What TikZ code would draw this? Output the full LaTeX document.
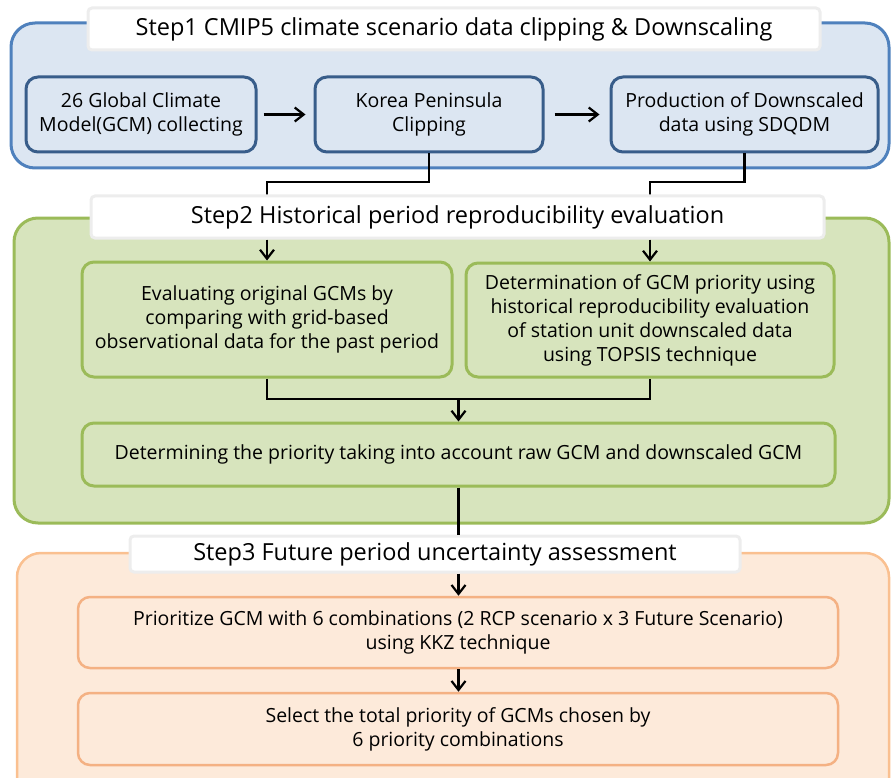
\documentclass[tikz,border=0pt]{standalone}
\usepackage{fontspec}
\setmainfont{Open Sans}
\usetikzlibrary{arrows.meta}
\definecolor{bluefill}{HTML}{DCE6F2}
\definecolor{blueouter}{HTML}{4F81BD}
\definecolor{bluedark}{HTML}{385D8A}
\definecolor{greenfill}{HTML}{D7E4BD}
\definecolor{greenline}{HTML}{9BBB59}
\definecolor{orangefill}{HTML}{FDEADA}
\definecolor{orangeline}{HTML}{FAC090}
\definecolor{orangeinner}{HTML}{F4B183}
\definecolor{titleline}{HTML}{EDEDED}
\newcommand{\boxfont}{\fontsize{19.5}{24}\selectfont}
\newcommand{\titlefont}{\fontsize{23.5}{28}\selectfont}
\tikzset{
  outer/.style={rounded corners=24pt, line width=3pt},
  inbox/.style={draw, rounded corners=12pt, line width=3pt, align=center,
    font=\boxfont, inner sep=0pt},
  bluebox/.style={inbox, draw=bluedark, fill=bluefill},
  greenbox/.style={inbox, draw=greenline, fill=greenfill},
  orangebox/.style={inbox, draw=orangeinner, fill=orangefill, line width=2.5pt},
  titlebox/.style={draw=titleline, fill=white, line width=3pt, rounded corners=4pt,
    font=\titlefont, inner sep=0pt},
  conn/.style={line width=2.2pt, black},
  arr/.style={conn, -{Straight Barb[length=9pt,width=14pt,line width=2.2pt]}},
}
\begin{document}
\begin{tikzpicture}[x=1pt,y=-1pt]
\useasboundingbox (0,0) rectangle (891,778);
\clip (0,0) rectangle (891,778);
% outer panels
\draw[outer, draw=blueouter, fill=bluefill] (11,23) rectangle (889,168);
\draw[outer, draw=greenline, fill=greenfill] (14,218) rectangle (889,523);
\draw[outer, draw=orangeline, fill=orangefill, line width=2.5pt] (17,553) rectangle (889,810);
% titles
\node[titlebox, minimum width=732pt, minimum height=42pt] (t1) at (454,29)
  {Step1 CMIP5 climate scenario data clipping \& Downscaling};
% step1 boxes
\node[bluebox, minimum width=230pt, minimum height=75pt] (A) at (141,114.5)
  {26 Global Climate\\Model(GCM) collecting};
\node[bluebox, minimum width=228pt, minimum height=75pt] (B) at (429,114.5)
  {Korea Peninsula\\Clipping};
\node[bluebox, minimum width=267pt, minimum height=75pt] (C) at (744.5,114.5)
  {Production of Downscaled\\data using SDQDM};
\draw[arr, shorten <=6pt, shorten >=8pt] (A) -- (B);
\draw[arr, shorten <=10pt, shorten >=10pt] (B) -- (C);
% step2
\node[greenbox, minimum width=370pt, minimum height=115pt] (E1) at (267,319.5)
  {Evaluating original GCMs by\\comparing with grid-based\\observational data for the past period};
\node[greenbox, minimum width=368pt, minimum height=114pt] (E2) at (650,320)
  {Determination of GCM priority using\\historical reproducibility evaluation\\of station unit downscaled data\\using TOPSIS technique};
\node[greenbox, minimum width=753pt, minimum height=63pt] (F) at (458.5,454.5)
  {Determining the priority taking into account raw GCM and downscaled GCM};
\coordinate (j1) at (0,182);
\coordinate (j2) at (0,399);
\draw[conn] (B.south) -- (B.south |- j1) -| (E1.north |- 0,196);
\draw[conn] (C.south) -- (C.south |- j1) -| (E2.north |- 0,196);
\node[titlebox, minimum width=733pt, minimum height=42pt] (t2) at (457.5,217)
  {Step2 Historical period reproducibility evaluation};
\draw[arr] (E1.north |- t2.south) -- (E1.north);
\draw[arr] (E2.north |- t2.south) -- (E2.north);
\draw[conn] (E1.south) -- (E1.south |- j2) -- (E2.south |- j2) -- (E2.south);
\draw[arr] (F.north |- j2) -- (F.north);
% step3
\node[titlebox, minimum width=610pt, minimum height=36pt] (t3) at (435,554)
  {Step3 Future period uncertainty assessment};
\draw[conn] (F.south) -- (F.south |- t3.north);
\node[orangebox, minimum width=760pt, minimum height=71pt] (G) at (458,632.5)
  {Prioritize GCM with 6 combinations (2 RCP scenario x 3 Future Scenario)\\using KKZ technique};
\node[orangebox, minimum width=760pt, minimum height=72pt] (H) at (458,729)
  {Select the total priority of GCMs chosen by\\6 priority combinations};
\draw[arr] (F.south |- t3.south) -- (F.south |- G.north);
\draw[arr] (G.south -| F.south) -- (F.south |- H.north);
\end{tikzpicture}
\end{document}
